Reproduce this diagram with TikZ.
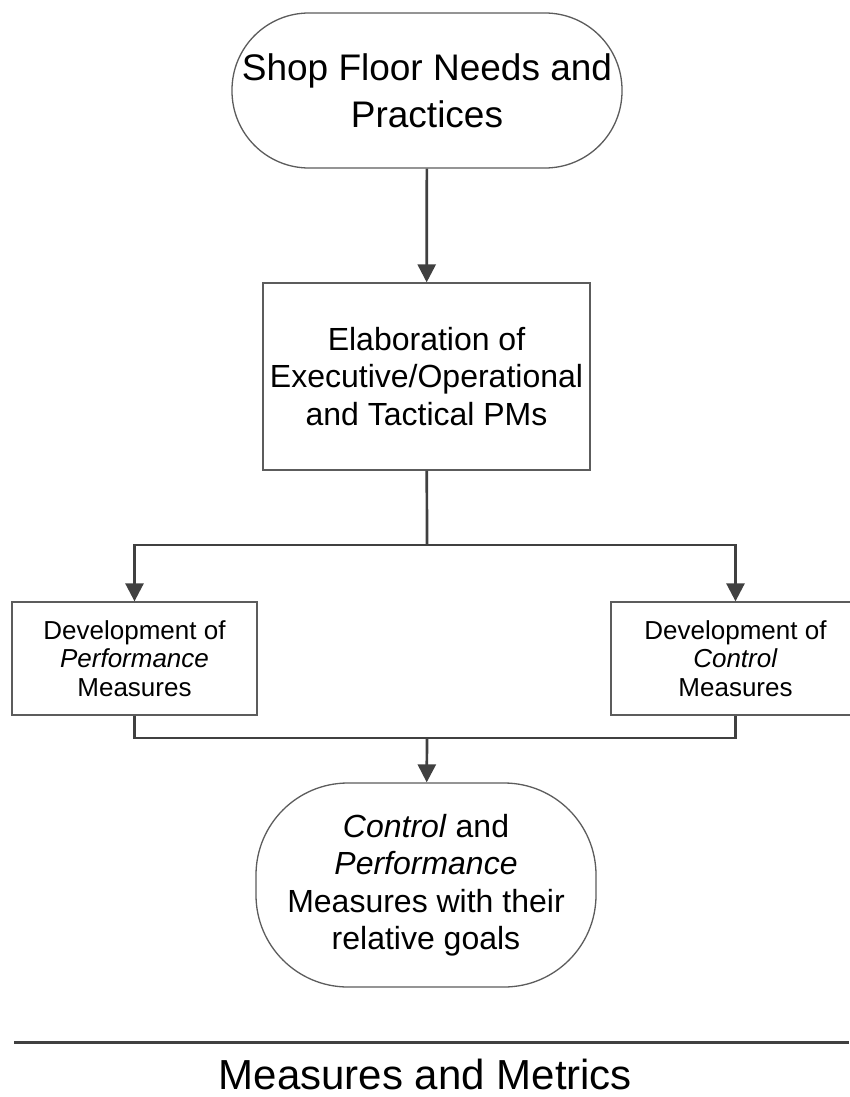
\documentclass[tikz,border=0pt]{standalone}
\usepackage{fontspec}
\setmainfont{Liberation Sans}
\usetikzlibrary{arrows.meta}
\definecolor{linegray}{HTML}{404040}
\definecolor{boxgray}{HTML}{5C5C5C}

\begin{document}
\begin{tikzpicture}[x=1pt,y=-1pt,
  termnode/.style={draw=boxgray,line width=1.3pt,fill=white,align=center,inner sep=0pt},
  stepbox/.style={draw=boxgray,line width=1.3pt,fill=white,align=center,inner sep=0pt},
  conn/.style={draw=linegray,line width=2.7pt},
  arr/.style={conn,-{Triangle[width=18pt,length=18pt]}}]
\useasboundingbox (0,0) rectangle (849,1097);
\node[termnode,minimum width=390pt,minimum height=155pt,rounded corners=77pt,
  font=\fontsize{37}{47}\selectfont] (shop) at (427,90.5) {Shop Floor Needs and\\Practices};
\node[stepbox,minimum width=327pt,minimum height=187pt,
  font=\fontsize{32}{37.5}\selectfont] (elab) at (426.5,376.5)
  {Elaboration of\\Executive/Operational\\and Tactical PMs};
\node[stepbox,minimum width=245pt,minimum height=113pt,
  font=\fontsize{26}{28.5}\selectfont] (perf) at (134.5,658.5)
  {Development of\\\textit{Performance}\\Measures};
\node[stepbox,minimum width=249pt,minimum height=113pt,
  font=\fontsize{26}{28.5}\selectfont] (ctrl) at (735.5,658.5)
  {Development of\\\textit{Control}\\Measures};
\node[termnode,minimum width=340pt,minimum height=204pt,rounded corners=92pt,
  font=\fontsize{32}{37.5}\selectfont] (goal) at (426,885)
  {\textit{Control} and\\\textit{Performance}\\Measures with their\\relative goals};
%
\coordinate (split) at (427,545);
\coordinate (merge) at (427,738);
\draw[arr] (shop) -- (elab);
\draw[conn] (elab) -- (split);
\draw[arr] (split) -| (perf);
\draw[arr] (split) -| (ctrl);
\draw[conn] (perf) |- (merge) -| (ctrl);
\draw[arr] (merge) -- (goal);
%
\coordinate (ruleL) at (14,1042);
\coordinate (ruleR) at (849,1042);
\draw[conn,line width=3pt] (ruleL) -- (ruleR);
\node[font=\fontsize{42}{50}\selectfont,anchor=base,inner sep=0pt] (title) at (425.5,1089)
  {Measures and Metrics};
\end{tikzpicture}
\end{document}
